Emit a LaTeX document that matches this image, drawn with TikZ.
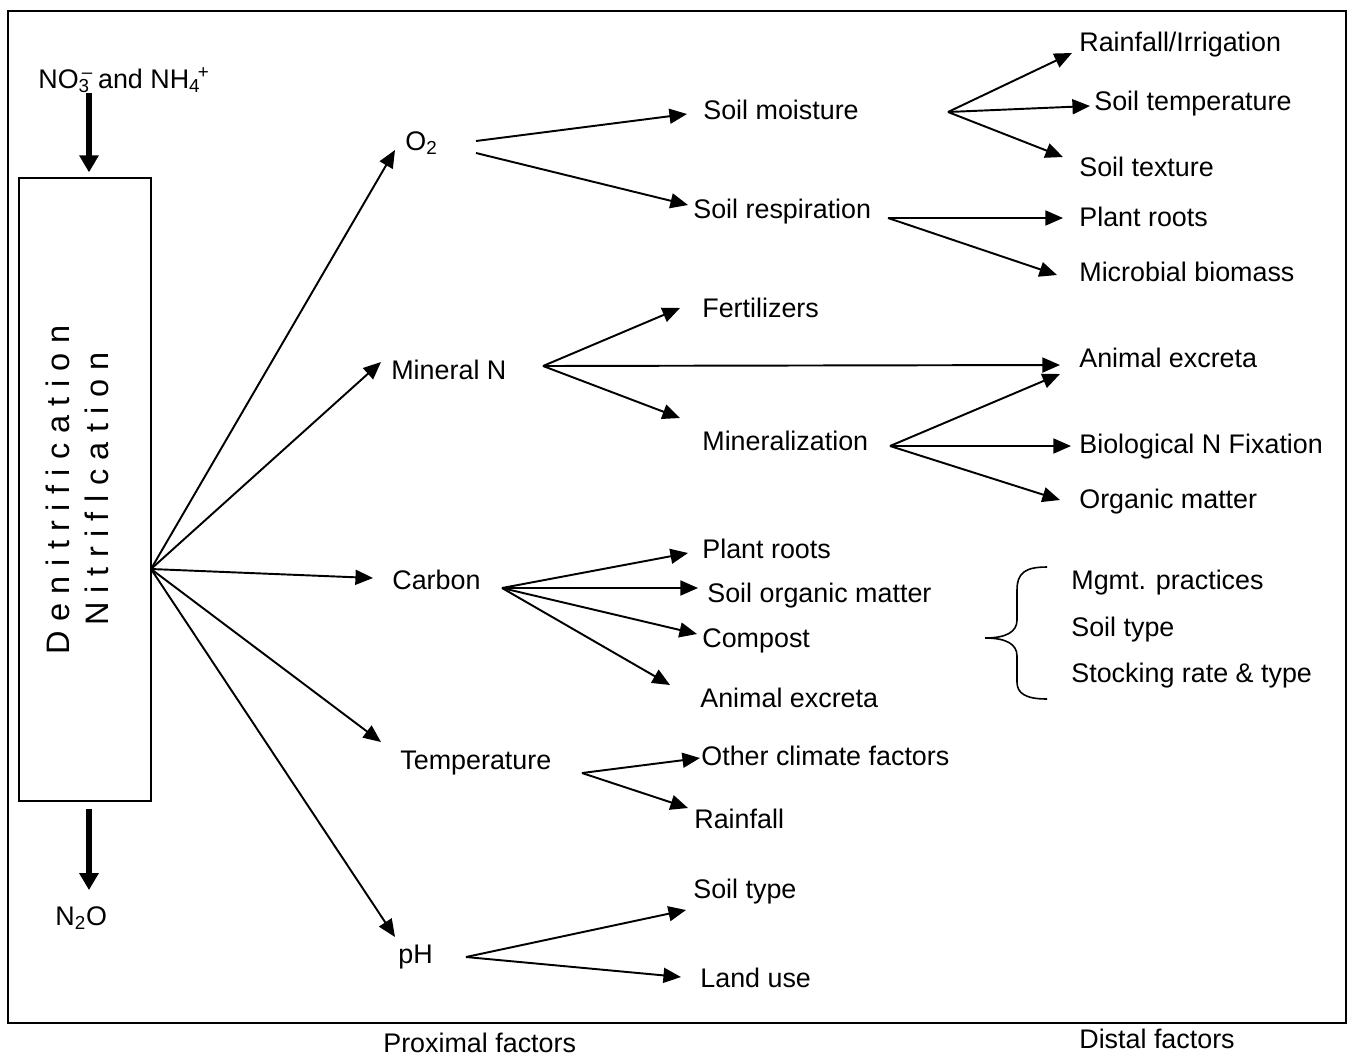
\documentclass[tikz,border=0pt]{standalone}
\usepackage{amsmath}
\usepackage{fontspec}
\setmainfont{Liberation Sans}
\newfontfamily\spacedfont[LetterSpace=29]{Liberation Sans}
\usetikzlibrary{arrows.meta,calc}

\tikzset{
  arr/.style={line width=1.1pt,-{Triangle[length=10pt,width=8.5pt]}},
  bigarr/.style={line width=3.2pt,-{Triangle[length=9.6pt,width=10.5pt]}},
  lbl/.style={anchor=base west,inner sep=0pt,font=\fontsize{15.3}{18}\selectfont},
  vlbl/.style={rotate=90,inner sep=0pt,font=\spacedfont\fontsize{18.5}{20}\selectfont},
}

\begin{document}
\begin{tikzpicture}[x=0.02cm,y=-0.02cm]
\useasboundingbox (0,0) rectangle (1351,1055);
\draw[line width=1.1pt] (8,11) rectangle (1346,1023);

% process box
\node[draw,line width=0.9pt,minimum width=2.64cm,minimum height=12.46cm,inner sep=0pt] (box) at (85,489.5) {};
\node[vlbl] (denit) at (58,490) {Denitrification};
\node[vlbl] (nitr) at (97,489) {Nitriflcation};
\coordinate (hub) at (151,569);
\coordinate (midx) at (89,0);

\node[lbl] (no3) at (38,88) {NO\textsubscript{3}\kern-0.3em\textsuperscript{--}\kern-0.1em{} and NH\textsubscript{4}\kern-0.1em\textsuperscript{+}};
\node[lbl] (n2o) at (55,925) {N\textsubscript{2}O};
\draw[bigarr,shorten >=2.8pt] (no3.south -| midx) -- (box.north -| midx);
\draw[bigarr,shorten <=4pt,shorten >=9pt] (box.south -| midx) -- (n2o.north -| midx);

% proximal factors
\node[lbl] (o2) at (405,150) {O\textsubscript{2}};
\node[lbl] (minn) at (391,379) {Mineral N};
\node[lbl] (carbon) at (392,589) {Carbon};
\node[lbl] (temp) at (400,769) {Temperature};
\node[lbl] (ph) at (398,963) {pH};

\draw[arr] (hub) -- ($(o2.base west)+(-10,0)$);
\draw[arr] (hub) -- ($(minn.base west)+(-10,-17)$);
\draw[arr] (hub) -- ($(carbon.base west)+(-19,-11)$);
\draw[arr] (hub) -- ($(temp.base west)+(-19,-27)$);
\draw[arr] (hub) -- ($(ph.base west)+(-3,-26)$);

% second level
\node[lbl] (smoist) at (703,119) {Soil moisture};
\node[lbl] (sresp) at (693,218) {Soil respiration};
\node[lbl] (fert) at (702,317) {Fertilizers};
\node[lbl] (minz) at (702,450) {Mineralization};
\node[lbl] (croots) at (702,558) {Plant roots};
\node[lbl] (som) at (707,602) {Soil organic matter};
\node[lbl] (comp) at (702,647) {Compost};
\node[lbl] (cexc) at (700,707) {Animal excreta};
\node[lbl] (other) at (701,765) {Other climate factors};
\node[lbl] (rfall) at (694,828) {Rainfall};
\node[lbl] (phtype) at (693,898) {Soil type};
\node[lbl] (luse) at (700,987) {Land use};

\coordinate (o2a) at (476,141);
\coordinate (o2b) at (476,153);
\coordinate (mnhub) at (543,366);
\coordinate (chub) at (502,588);
\coordinate (thub) at (582,773);
\coordinate (phhub) at (466,957);

\draw[arr] (o2a) -- ($(smoist.base west)+(-16,-5)$);
\draw[arr] (o2b) -- ($(sresp.base west)+(-5,-13)$);
\draw[arr] (mnhub) -- ($(fert.base west)+(-22,-9)$);
\draw[arr] (mnhub) -- ($(minz.base west)+(-22,-32)$);
\draw[arr] (chub) -- ($(croots.base west)+(-14,-5)$);
\draw[arr] (chub) -- ($(som.base west)+(-9,-14)$);
\draw[arr] (chub) -- ($(comp.base west)+(-5,-13)$);
\draw[arr] (chub) -- ($(cexc.base west)+(-30,-22)$);
\draw[arr] (thub) -- ($(other.base west)+(-1,-7)$);
\draw[arr] (thub) -- ($(rfall.base west)+(-6,-20)$);
\draw[arr] (phhub) -- ($(phtype.base west)+(-7,12)$);
\draw[arr] (phhub) -- ($(luse.base west)+(-19,-10)$);

% distal factors
\node[lbl] (rain) at (1079,51) {Rainfall/Irrigation};
\node[lbl] (stemp) at (1094,110) {Soil temperature};
\node[lbl] (stext) at (1079,176) {Soil texture};
\node[lbl] (proots) at (1079,226) {Plant roots};
\node[lbl] (mbio) at (1079,281) {Microbial biomass};
\node[lbl] (aexc) at (1079,367) {Animal excreta};
\node[lbl] (bnf) at (1079,453) {Biological N Fixation};
\node[lbl] (om) at (1079,508) {Organic matter};
\node[lbl] (mgmt) at (1071,589) {Mgmt. practices};
\node[lbl] (stype) at (1071,636) {Soil type};
\node[lbl] (stock) at (1071,682) {Stocking rate \& type};

\coordinate (smhub) at (948,112);
\coordinate (srhub) at (888,218);
\coordinate (mzhub) at (890,446);

\draw[arr] (smhub) -- ($(rain.base west)+(-7,2)$);
\draw[arr] (smhub) -- ($(stemp.base west)+(-4,-4)$);
\draw[arr] (smhub) -- ($(stext.base west)+(-16,-19)$);
\draw[arr] (srhub) -- ($(proots.base west)+(-16,-8)$);
\draw[arr] (srhub) -- ($(mbio.base west)+(-22,-6)$);
\draw[arr] (mnhub) -- ($(aexc.base west)+(-19,-2)$);
\draw[arr] (mzhub) -- ($(aexc.base west)+(-19,7)$);
\draw[arr] (mzhub) -- ($(bnf.base west)+(-8,-7)$);
\draw[arr] (mzhub) -- ($(om.base west)+(-19,-8)$);

% brace
\draw[line width=0.9pt] (1047,567) .. controls (1025,567) and (1017,573) .. (1017,590) -- (1017,620)
  .. controls (1017,632) and (1006,638) .. (985,638) .. controls (1006,638) and (1017,644) .. (1017,656)
  -- (1017,682) .. controls (1017,693) and (1025,699) .. (1047,699);

\node[lbl] (prox) at (383,1052) {Proximal factors};
\node[lbl] (dist) at (1079,1048) {Distal factors};
\end{tikzpicture}
\end{document}
